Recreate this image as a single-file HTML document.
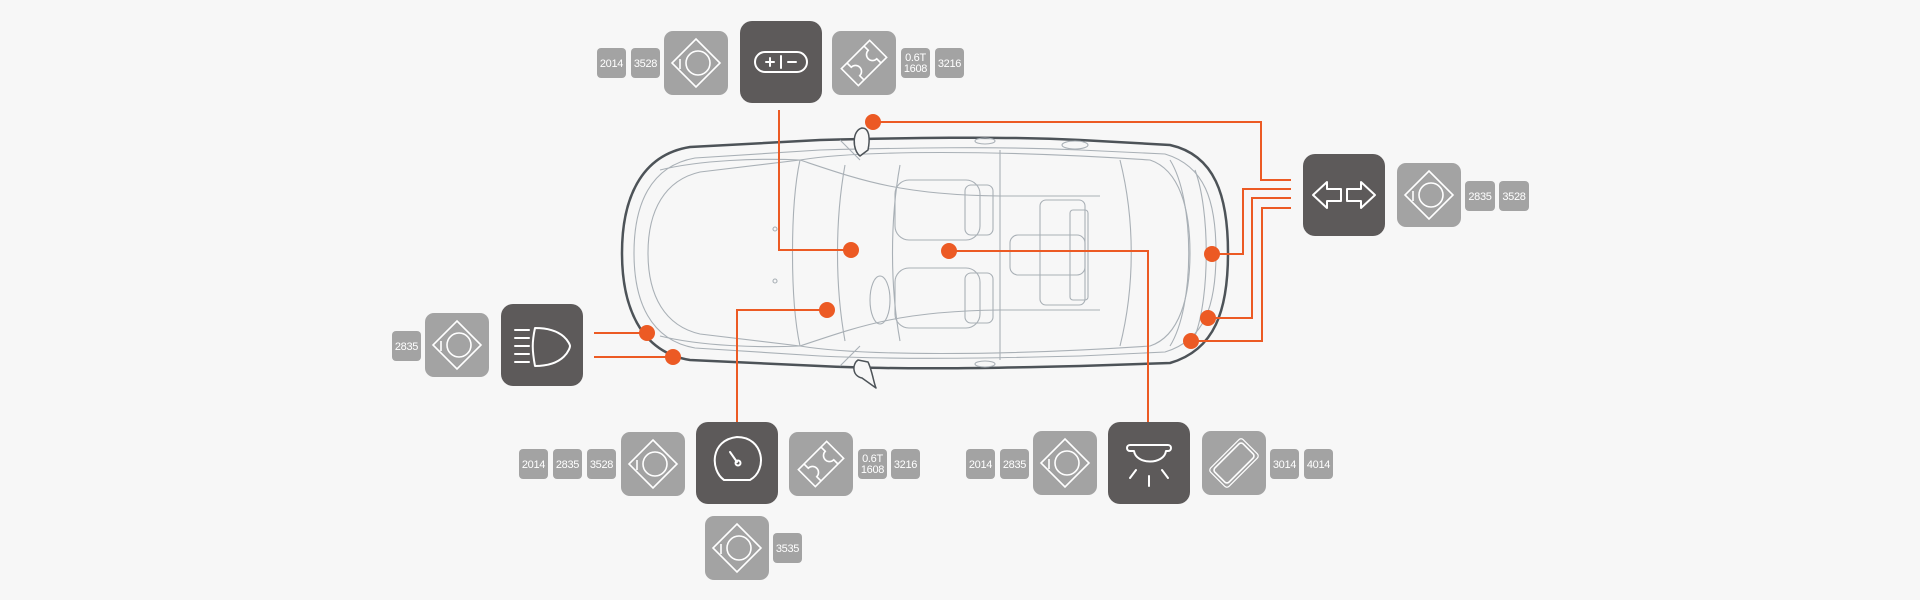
<!DOCTYPE html>
<html><head><meta charset="utf-8"><style>
html,body{margin:0;padding:0;background:#f7f7f7;}
svg{display:block}
text{font-family:"Liberation Sans",sans-serif;font-size:11px;fill:#fff;text-anchor:middle;letter-spacing:-0.3px}
</style></head><body>
<svg width="1920" height="600" viewBox="0 0 1920 600" xmlns="http://www.w3.org/2000/svg">
<rect width="1920" height="600" fill="#f7f7f7"/>
<defs>
<g id="dia"><polygon points="32,8 56,32 32,56 8,32" fill="none" stroke="#fff" stroke-width="1.6"/><circle cx="34" cy="32" r="12" fill="none" stroke="#fff" stroke-width="1.6"/><line x1="16" y1="28" x2="16" y2="38" stroke="#fff" stroke-width="1.6"/></g>
<g id="res"><g transform="rotate(-45 32 32)"><rect x="12" y="20" width="40" height="24" fill="none" stroke="#fff" stroke-width="1.6"/><path d="M20,20 v6 a4,4 0 0 1 0,12 v6 M44,20 v6 a4,4 0 0 0 0,12 v6" fill="none" stroke="#fff" stroke-width="1.6"/></g></g>
<g id="led"><g transform="rotate(-45 32 32)"><rect x="12" y="22" width="40" height="20" rx="3" fill="none" stroke="#fff" stroke-width="1.6"/><rect x="9" y="19" width="46" height="26" rx="3" fill="none" stroke="#fff" stroke-width="1.2"/></g></g>
</defs>

<!-- car -->
<g fill="none" stroke-linejoin="round">
<path d="M690,147 C640,155 622,200 622,253 C622,306 640,352 690,360 L820,366 C900,370 1000,368 1080,366 L1170,363 C1215,350 1228,310 1228,253 C1228,196 1215,155 1170,145 L1080,140 C1000,136 900,138 820,140 Z" stroke="#4d5358" stroke-width="2.5"/>
<g stroke="#a9b0b6" stroke-width="1.1">
<path d="M695,158 C650,166 634,205 634,253 C634,301 650,340 695,348 L820,356 C900,360 1000,358 1080,356 L1165,352 C1205,340 1216,305 1216,253 C1216,201 1205,166 1165,154 L1080,150 C1000,146 900,148 820,150 Z"/>
<path d="M700,172 C665,180 648,210 648,253 C648,296 665,326 700,334 L800,346 M700,172 L800,160"/>
<path d="M800,160 C860,150 1000,150 1150,160 C1180,170 1190,210 1190,253 C1190,296 1180,336 1150,346 C1000,356 860,356 800,346 C790,300 790,206 800,160 Z"/>
<path d="M845,165 C835,220 835,286 845,341"/>
<path d="M900,165 C890,220 890,286 900,341"/>
<path d="M1120,160 C1135,220 1135,286 1120,346"/>
<path d="M800,160 C860,180 900,195 1000,196 L1100,196 M800,346 C860,326 900,311 1000,310 L1100,310"/>
<rect x="895" y="180" width="85" height="60" rx="14"/>
<rect x="895" y="268" width="85" height="60" rx="14"/>
<rect x="965" y="185" width="28" height="50" rx="6"/>
<rect x="965" y="273" width="28" height="50" rx="6"/>
<rect x="1010" y="235" width="75" height="40" rx="8"/>
<rect x="1040" y="200" width="45" height="105" rx="6"/>
<rect x="1070" y="210" width="18" height="90" rx="3"/>
<ellipse cx="880" cy="300" rx="10" ry="24"/>
<path d="M1000,150 L1000,360 M840,140 L860,160 M840,366 L860,346"/>
<path d="M1170,160 C1195,200 1195,306 1170,346 M1195,170 C1210,210 1210,296 1195,336"/>
<path d="M660,170 C700,160 760,158 800,160 M660,336 C700,346 760,348 800,346"/>
<ellipse cx="1075" cy="145" rx="13" ry="4"/><ellipse cx="985" cy="141" rx="10" ry="3"/><ellipse cx="985" cy="364" rx="10" ry="3"/>
<circle cx="775" cy="229" r="2"/><circle cx="775" cy="281" r="2"/>
</g>
<path d="M862,128 C852,130 852,150 860,156 L868,150 C870,140 870,128 862,128 Z" stroke="#4d5358" stroke-width="1.5" fill="#f7f7f7"/>
<path d="M862,378 C852,376 852,364 858,360 L868,362 C872,370 874,384 876,388 Z" stroke="#4d5358" stroke-width="1.5" fill="#f7f7f7"/>
</g>

<!-- connectors -->
<g fill="none" stroke="#ec5a24" stroke-width="2">
<path d="M779,110 V250 H851"/>
<path d="M873,122 H1261 V180 H1291"/>
<path d="M1291,189 H1243 V254 H1212"/>
<path d="M1291,198 H1252 V318 H1208"/>
<path d="M1291,208 H1262 V341 H1191"/>
<path d="M594,333 H647 M594,357 H673"/>
<path d="M827,310 H737 V422"/>
<path d="M949,251 H1148 V422"/>
</g>
<g fill="#ec5a24">
<circle cx="873" cy="122" r="8"/><circle cx="851" cy="250" r="8"/><circle cx="949" cy="251" r="8"/><circle cx="827" cy="310" r="8"/>
<circle cx="647" cy="333" r="8"/><circle cx="673" cy="357" r="8"/>
<circle cx="1212" cy="254" r="8"/><circle cx="1208" cy="318" r="8"/><circle cx="1191" cy="341" r="8"/>
</g>

<!-- small boxes -->
<g fill="#a3a3a3">
<rect x="597" y="48" width="29" height="30" rx="4"/><rect x="631" y="48" width="29" height="30" rx="4"/>
<rect x="901" y="48" width="29" height="30" rx="4"/><rect x="935" y="48" width="29" height="30" rx="4"/>
<rect x="1465" y="181" width="30" height="30" rx="4"/><rect x="1499" y="181" width="30" height="30" rx="4"/>
<rect x="392" y="331" width="29" height="30" rx="4"/>
<rect x="519" y="449" width="29" height="30" rx="4"/><rect x="553" y="449" width="29" height="30" rx="4"/><rect x="587" y="449" width="29" height="30" rx="4"/>
<rect x="858" y="449" width="29" height="30" rx="4"/><rect x="891" y="449" width="29" height="30" rx="4"/>
<rect x="773" y="533" width="29" height="30" rx="4"/>
<rect x="966" y="449" width="29" height="30" rx="4"/><rect x="1000" y="449" width="29" height="30" rx="4"/>
<rect x="1270" y="449" width="29" height="30" rx="4"/><rect x="1304" y="449" width="29" height="30" rx="4"/>
</g>
<g>
<text x="611.5" y="67">2014</text><text x="645.5" y="67">3528</text>
<text x="915.5" y="61" font-size="10">0.6T</text><text x="915.5" y="72" font-size="10">1608</text><text x="949.5" y="67">3216</text>
<text x="1480" y="200">2835</text><text x="1514" y="200">3528</text>
<text x="406.5" y="350">2835</text>
<text x="533.5" y="468">2014</text><text x="567.5" y="468">2835</text><text x="601.5" y="468">3528</text>
<text x="872.5" y="462" font-size="10">0.6T</text><text x="872.5" y="473" font-size="10">1608</text><text x="905.5" y="468">3216</text>
<text x="787.5" y="552">3535</text>
<text x="980.5" y="468">2014</text><text x="1014.5" y="468">2835</text>
<text x="1284.5" y="468">3014</text><text x="1318.5" y="468">4014</text>
</g>

<!-- gray icon boxes -->
<g fill="#a3a3a3">
<rect x="664" y="31" width="64" height="64" rx="9"/><rect x="832" y="31" width="64" height="64" rx="9"/>
<rect x="1397" y="163" width="64" height="64" rx="9"/>
<rect x="425" y="313" width="64" height="64" rx="9"/>
<rect x="621" y="432" width="64" height="64" rx="9"/><rect x="789" y="432" width="64" height="64" rx="9"/><rect x="705" y="516" width="64" height="64" rx="9"/>
<rect x="1033" y="431" width="64" height="64" rx="9"/><rect x="1202" y="431" width="64" height="64" rx="9"/>
</g>
<use href="#dia" x="664" y="31"/><use href="#res" x="832" y="31"/>
<use href="#dia" x="1397" y="163"/><use href="#dia" x="425" y="313"/>
<use href="#dia" x="621" y="432"/><use href="#res" x="789" y="432"/><use href="#dia" x="705" y="516"/>
<use href="#dia" x="1033" y="431"/><use href="#led" x="1202" y="431"/>

<!-- dark boxes -->
<g fill="#5d5a5a">
<rect x="740" y="21" width="82" height="82" rx="12"/>
<rect x="1303" y="154" width="82" height="82" rx="12"/>
<rect x="501" y="304" width="82" height="82" rx="12"/>
<rect x="696" y="422" width="82" height="82" rx="12"/>
<rect x="1108" y="422" width="82" height="82" rx="12"/>
</g>
<g fill="none" stroke="#fff" stroke-width="2" stroke-linecap="round" stroke-linejoin="round">
<!-- battery -->
<rect x="755" y="52" width="52" height="20" rx="10"/>
<path d="M766,62 h8 M770,58 v8 M781,56 v12 M788,62 h8"/>
<!-- arrows -->
<path d="M1313,195 L1327,182 V189 H1341 V201 H1327 V208 Z"/>
<path d="M1375,195 L1361,182 V189 H1347 V201 H1361 V208 Z"/>
<!-- headlight -->
<path d="M515,330 h14 M515,338 h14 M515,346 h14 M515,354 h14 M515,362 h14"/>
<path d="M535,328 C565,328 570,345 570,346 C570,348 565,366 535,366 C532,350 532,342 535,328 Z"/>
<!-- speedo -->
<path d="M724,480 C710,470 710,440 737,437 C764,437 768,470 750,480 Z"/>
<path d="M730,452 L737,462"/><circle cx="738" cy="463" r="2.5"/>
<!-- dome light -->
<path d="M1130,445 h38 c4,0 4,6 0,6 h-2 c-2,14 -30,14 -32,0 h-4 c-4,0 -4,-6 0,-6 Z"/>
<path d="M1149,476 v10 M1136,470 l-6,8 M1162,470 l6,8"/>
</g>
</svg>
</body></html>
